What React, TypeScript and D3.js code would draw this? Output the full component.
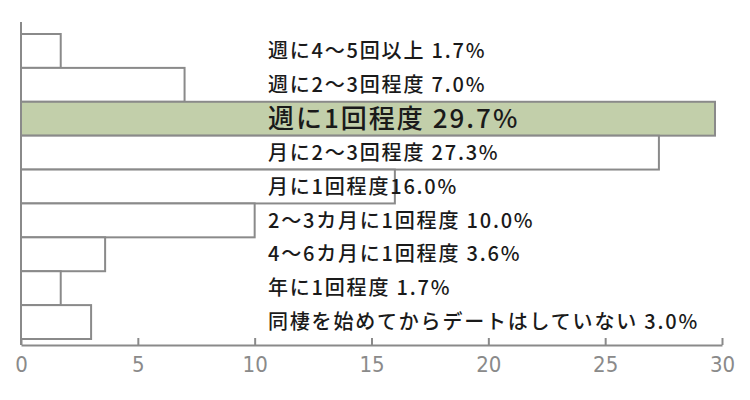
import React, { useEffect, useRef } from 'react';
import * as d3 from 'd3';

const categories = [
  '週に4〜5回以上 1.7%',
  '週に2〜3回程度 7.0%',
  '週に1回程度 29.7%',
  '月に2〜3回程度 27.3%',
  '月に1回程度16.0%',
  '2〜3カ月に1回程度 10.0%',
  '4〜6カ月に1回程度 3.6%',
  '年に1回程度 1.7%',
  '同棲を始めてからデートはしていない 3.0%',
];
const values = [1.7, 7.0, 29.7, 27.3, 16.0, 10.0, 3.6, 1.7, 3.0];
const highlight = 2;
const tickValues = [0, 5, 10, 15, 20, 25, 30];

const App: React.FC = () => {
  const svgRef = useRef<SVGSVGElement>(null);

  useEffect(() => {
    if (!svgRef.current) return;
    const width = 750;
    const height = 400;
    const axisY = 345;

    const svg = d3.select(svgRef.current);
    svg.selectAll('*').remove();

    const x = d3.scaleLinear().domain([0, 30]).range([21, 722]);
    const y = d3.scaleBand<number>()
      .domain(d3.range(categories.length))
      .range([34, 339])
      .padding(0);

    // bars
    svg.append('g')
      .selectAll('rect')
      .data(values)
      .enter().append('rect')
      .attr('x', x(0))
      .attr('y', (_, i) => y(i)!)
      .attr('width', d => x(d) - x(0))
      .attr('height', y.bandwidth())
      .attr('fill', (_, i) => (i === highlight ? '#c2cfaa' : '#ffffff'))
      .attr('stroke', '#8a8a8a')
      .attr('stroke-width', 2);

    // y axis line
    svg.append('line')
      .attr('x1', x(0)).attr('x2', x(0))
      .attr('y1', 22).attr('y2', axisY)
      .attr('stroke', '#8a8a8a')
      .attr('stroke-width', 2);

    // x axis
    const ax = svg.append('g')
      .attr('transform', `translate(0,${axisY})`)
      .call(d3.axisBottom(x).tickValues(tickValues).tickSizeInner(-7).tickSizeOuter(0));
    ax.select('.domain').attr('stroke', '#8a8a8a').attr('stroke-width', 2);
    ax.selectAll('.tick line').attr('stroke', '#8a8a8a').attr('stroke-width', 2);
    ax.selectAll('.tick text')
      .attr('y', 19)
      .attr('dy', '0.35em')
      .attr('fill', '#8a8a8a')
      .attr('font-size', 22)
      .attr('font-family', '"Liberation Sans Narrow", "DejaVu Sans Condensed", sans-serif');

    // labels
    svg.append('g')
      .selectAll('text')
      .data(categories)
      .enter().append('text')
      .attr('x', 268)
      .attr('y', (_, i) => y(i)! + y.bandwidth() / 2)
      .attr('dy', '0.36em')
      .attr('font-family', '"Noto Sans CJK JP", sans-serif')
      .attr('font-weight', 500)
      .attr('font-size', (_, i) => (i === highlight ? 26 : 20))
      .attr('letter-spacing', (_, i) => (i === highlight ? 2 : 1.8))
      .attr('fill', '#1a1a1a')
      .text(d => d);

    svg.attr('width', width).attr('height', height);
  }, []);

  return (
    <svg
      ref={svgRef}
      width={750}
      height={400}
      style={{ position: 'absolute', left: 0, top: 0, background: '#fff' }}
    />
  );
};

export default App;
